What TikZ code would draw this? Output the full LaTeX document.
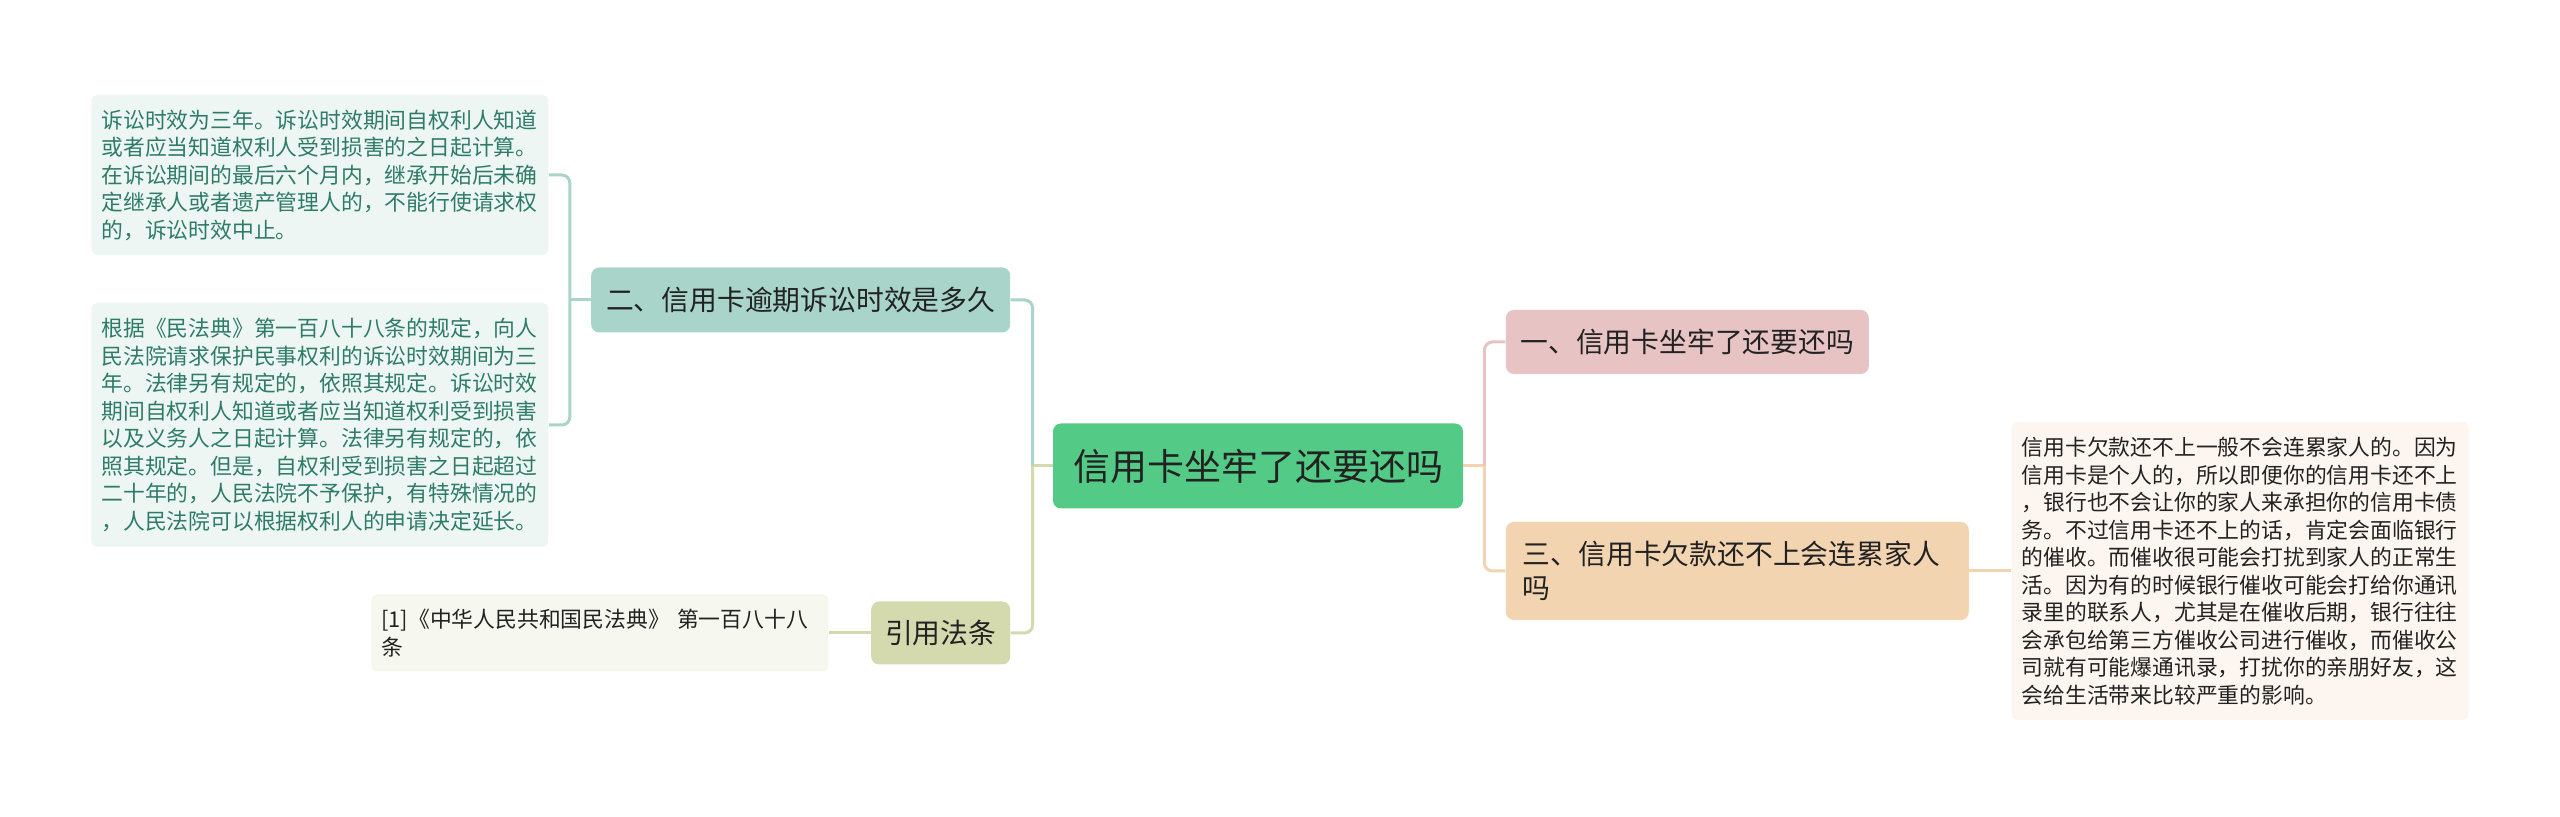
\documentclass[tikz,border=0pt]{standalone}
\usepackage{fontspec}
\setmainfont{Noto Sans CJK SC}
\usepackage{tikz}
\usetikzlibrary{positioning}
\definecolor{rootFill}{HTML}{53CB86}
\definecolor{brTeal}{HTML}{A9D4CA}
\definecolor{brOlive}{HTML}{D5DAAE}
\definecolor{brPink}{HTML}{E7C3C3}
\definecolor{brPeach}{HTML}{F3D4B1}
\definecolor{leafTeal}{HTML}{EEF6F4}
\definecolor{leafTealTx}{HTML}{2E7C68}
\definecolor{leafOlive}{HTML}{F6F7EE}
\definecolor{leafPeach}{HTML}{FDF6F0}
\definecolor{nodeTx}{HTML}{222222}
\tikzset{
  root/.style={
    rectangle, rounded corners=4pt, fill=rootFill, text=nodeTx,
    font=\fontsize{18.5pt}{22pt}\selectfont,
    minimum width=205pt, minimum height=42.5pt, inner sep=0pt
  },
  branch/.style={
    rectangle, rounded corners=4pt, text=nodeTx,
    font=\fontsize{13.9pt}{17pt}\selectfont,
    minimum height=32.5pt, inner sep=0pt
  },
  leaf/.style={
    rectangle, rounded corners=3pt, text=nodeTx,
    text width=218.5pt, inner xsep=5pt, inner ysep=0pt, align=left,
    font=\fontsize{10.9pt}{13.75pt}\selectfont
  },
  link/.style={line width=1.5pt}
}

\begin{document}
\begin{tikzpicture}[x=1pt, y=-1pt, node distance=21pt]
  \useasboundingbox (0,0) rectangle (1280,408.5);

  % --- centre
  \node[root] (root) at (629,233) {信用卡坐牢了还要还吗};

  % --- left branches
  \node[branch, fill=brTeal, minimum width=209.5pt, left=of root, yshift=83pt]
        (limit) {二、信用卡逾期诉讼时效是多久};
  \node[branch, fill=brOlive, minimum width=69.5pt, minimum height=31.5pt,
        left=of root, yshift=-83.5pt] (cite) {引用法条};

  \node[leaf, fill=leafTeal, text=leafTealTx, minimum height=80pt,
        left=of limit, yshift=62.5pt] (limitA)
        {诉讼时效为三年。诉讼时效期间自权利人知道\\
         或者应当知道权利人受到损害的之日起计算。\\
         在诉讼期间的最后六个月内，继承开始后未确\\
         定继承人或者遗产管理人的，不能行使请求权\\
         的，诉讼时效中止。};
  \node[leaf, fill=leafTeal, text=leafTealTx, minimum height=122pt,
        left=of limit, yshift=-62.5pt] (limitB)
        {根据《民法典》第一百八十八条的规定，向人\\
         民法院请求保护民事权利的诉讼时效期间为三\\
         年。法律另有规定的，依照其规定。诉讼时效\\
         期间自权利人知道或者应当知道权利受到损害\\
         以及义务人之日起计算。法律另有规定的，依\\
         照其规定。但是，自权利受到损害之日起超过\\
         二十年的，人民法院不予保护，有特殊情况的\\
         ，人民法院可以根据权利人的申请决定延长。};
  \node[leaf, fill=leafOlive, minimum height=38.5pt, left=of cite]
        (citeA) {[1]《中华人民共和国民法典》 第一百八十八\\条};

  % --- right branches
  \node[branch, fill=brPink, minimum width=181.5pt, minimum height=32pt,
        right=of root, yshift=62pt] (jail) {一、信用卡坐牢了还要还吗};
  \node[branch, fill=brPeach, text width=214.5pt, inner xsep=8.5pt,
        minimum height=49pt, align=left, right=of root, yshift=-52.5pt]
        (family) {三、信用卡欠款还不上会连累家人\\吗};
  \node[leaf, fill=leafPeach, minimum height=149pt, right=of family]
        (familyA)
        {信用卡欠款还不上一般不会连累家人的。因为\\
         信用卡是个人的，所以即便你的信用卡还不上\\
         ，银行也不会让你的家人来承担你的信用卡债\\
         务。不过信用卡还不上的话，肯定会面临银行\\
         的催收。而催收很可能会打扰到家人的正常生\\
         活。因为有的时候银行催收可能会打给你通讯\\
         录里的联系人，尤其是在催收后期，银行往往\\
         会承包给第三方催收公司进行催收，而催收公\\
         司就有可能爆通讯录，打扰你的亲朋好友，这\\
         会给生活带来比较严重的影响。};

  % --- junctions
  \coordinate[left=10pt of root.west]   (jl);
  \coordinate[right=10.5pt of root.east] (jr);
  \coordinate[left=10.5pt of limit.west] (jt);

  % --- links
  \draw[link, brOlive] (root.west) -- (jl);
  \draw[link, brTeal, rounded corners=4pt] (jl) |- (limit.east);
  \draw[link, brOlive, rounded corners=4pt] (jl) |- (cite.east);
  \draw[link, brTeal] (limit.west) -- (jt);
  \draw[link, brTeal, rounded corners=4pt] (jt) |- (limitA.east);
  \draw[link, brTeal, rounded corners=4pt] (jt) |- (limitB.east);
  \draw[link, brOlive] (cite.west) -- (citeA.east);
  \draw[link, brPeach] (root.east) -- (jr);
  \draw[link, brPink, rounded corners=4pt] (jr) |- (jail.west);
  \draw[link, brPeach, rounded corners=4pt] (jr) |- (family.west);
  \draw[link, brPeach] (family.east) -- (familyA.west);
\end{tikzpicture}
\end{document}
